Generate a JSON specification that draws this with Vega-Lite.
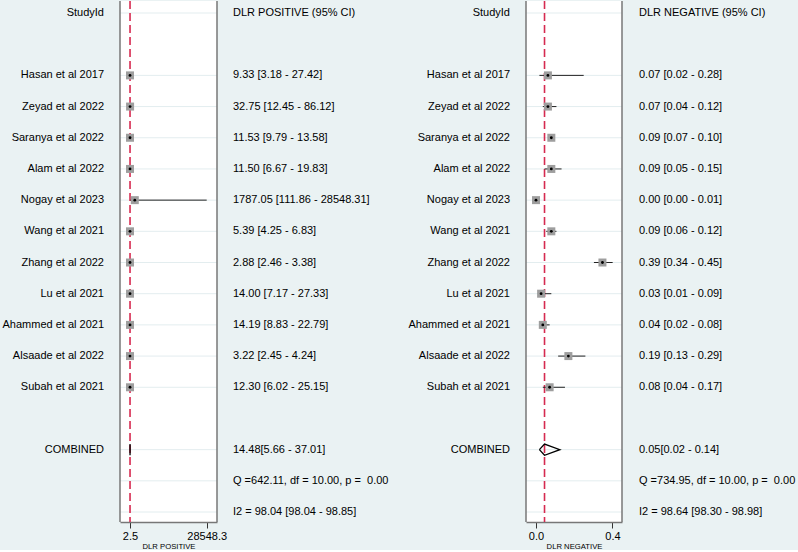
{
  "$schema": "https://vega.github.io/schema/vega-lite/v6.json",
  "background": "#EAF2F3",
  "padding": 0,
  "autosize": {"type": "pad"},
  "spacing": 0,
  "bounds": "flush",
  "config": {
    "view": {"stroke": null},
    "text": {"font": "Liberation Sans", "fontSize": 11, "color": "black", "baseline": "middle"},
    "axisX": {
      "domainColor": "#777777", "domainWidth": 1.5, "tickColor": "#333333", "tickSize": 6, "tickWidth": 1,
      "labelFont": "Liberation Sans", "labelFontSize": 11, "labelColor": "black", "labelPadding": 2,
      "labelFlush": false, "labelOverlap": false,
      "titleFont": "Liberation Sans", "titleFontSize": 7.7, "titleFontWeight": "normal", "titleColor": "black", "titlePadding": 1,
      "grid": false
    }
  },
  "resolve": {"scale": {"x": "independent", "y": "independent"}},
  "datasets": {
    "labels": [
      {"row": 0, "label": "StudyId"},
      {"row": 2, "label": "Hasan et al 2017"},
      {"row": 3, "label": "Zeyad et al 2022"},
      {"row": 4, "label": "Saranya et al 2022"},
      {"row": 5, "label": "Alam et al 2022"},
      {"row": 6, "label": "Nogay et al 2023"},
      {"row": 7, "label": "Wang et al 2021"},
      {"row": 8, "label": "Zhang et al 2022"},
      {"row": 9, "label": "Lu et al 2021"},
      {"row": 10, "label": "Ahammed et al 2021"},
      {"row": 11, "label": "Alsaade et al 2022"},
      {"row": 12, "label": "Subah et al 2021"},
      {"row": 14, "label": "COMBINED"}
    ],
    "posText": [
      {"row": 0, "t": "DLR POSITIVE (95% CI)"},
      {"row": 2, "t": "9.33 [3.18 - 27.42]"},
      {"row": 3, "t": "32.75 [12.45 - 86.12]"},
      {"row": 4, "t": "11.53 [9.79 - 13.58]"},
      {"row": 5, "t": "11.50 [6.67 - 19.83]"},
      {"row": 6, "t": "1787.05 [111.86 - 28548.31]"},
      {"row": 7, "t": "5.39 [4.25 - 6.83]"},
      {"row": 8, "t": "2.88 [2.46 - 3.38]"},
      {"row": 9, "t": "14.00 [7.17 - 27.33]"},
      {"row": 10, "t": "14.19 [8.83 - 22.79]"},
      {"row": 11, "t": "3.22 [2.45 - 4.24]"},
      {"row": 12, "t": "12.30 [6.02 - 25.15]"},
      {"row": 14, "t": "\u00a014.48[5.66 - 37.01]"},
      {"row": 15, "t": "Q =642.11, df = 10.00, p = \u00a00.00"},
      {"row": 16, "t": "I2 = 98.04 [98.04 - 98.85]"}
    ],
    "negText": [
      {"row": 0, "t": "DLR NEGATIVE (95% CI)"},
      {"row": 2, "t": "0.07 [0.02 - 0.28]"},
      {"row": 3, "t": "0.07 [0.04 - 0.12]"},
      {"row": 4, "t": "0.09 [0.07 - 0.10]"},
      {"row": 5, "t": "0.09 [0.05 - 0.15]"},
      {"row": 6, "t": "0.00 [0.00 - 0.01]"},
      {"row": 7, "t": "0.09 [0.06 - 0.12]"},
      {"row": 8, "t": "0.39 [0.34 - 0.45]"},
      {"row": 9, "t": "0.03 [0.01 - 0.09]"},
      {"row": 10, "t": "0.04 [0.02 - 0.08]"},
      {"row": 11, "t": "0.19 [0.13 - 0.29]"},
      {"row": 12, "t": "0.08 [0.04 - 0.17]"},
      {"row": 14, "t": "\u00a00.05[0.02 - 0.14]"},
      {"row": 15, "t": "Q =734.95, df = 10.00, p = \u00a00.00"},
      {"row": 16, "t": "I2 = 98.64 [98.30 - 98.98]"}
    ],
    "studies": [
      {"row": 2, "pos": 9.33, "posLo": 3.18, "posHi": 27.42, "neg": 0.07, "negLo": 0.02, "negHi": 0.28},
      {"row": 3, "pos": 32.75, "posLo": 12.45, "posHi": 86.12, "neg": 0.07, "negLo": 0.04, "negHi": 0.12},
      {"row": 4, "pos": 11.53, "posLo": 9.79, "posHi": 13.58, "neg": 0.09, "negLo": 0.07, "negHi": 0.10},
      {"row": 5, "pos": 11.50, "posLo": 6.67, "posHi": 19.83, "neg": 0.09, "negLo": 0.05, "negHi": 0.15},
      {"row": 6, "pos": 1787.05, "posLo": 111.86, "posHi": 28548.31, "neg": 0.00, "negLo": 0.00, "negHi": 0.01},
      {"row": 7, "pos": 5.39, "posLo": 4.25, "posHi": 6.83, "neg": 0.09, "negLo": 0.06, "negHi": 0.12},
      {"row": 8, "pos": 2.88, "posLo": 2.46, "posHi": 3.38, "neg": 0.39, "negLo": 0.34, "negHi": 0.45},
      {"row": 9, "pos": 14.00, "posLo": 7.17, "posHi": 27.33, "neg": 0.03, "negLo": 0.01, "negHi": 0.09},
      {"row": 10, "pos": 14.19, "posLo": 8.83, "posHi": 22.79, "neg": 0.04, "negLo": 0.02, "negHi": 0.08},
      {"row": 11, "pos": 3.22, "posLo": 2.45, "posHi": 4.24, "neg": 0.19, "negLo": 0.13, "negHi": 0.29},
      {"row": 12, "pos": 12.30, "posLo": 6.02, "posHi": 25.15, "neg": 0.08, "negLo": 0.04, "negHi": 0.17}
    ],
    "pooled": [
      {"row": 14, "pos": 14.48, "posLo": 5.66, "posHi": 37.01, "neg": 0.05, "negLo": 0.02, "negHi": 0.14}
    ],
    "diamond": [
      {"row": 14, "ord": 1, "side": 0, "pos": 5.66, "neg": 0.02},
      {"row": 14, "ord": 2, "side": -1, "pos": 14.48, "neg": 0.05},
      {"row": 14, "ord": 3, "side": 0, "pos": 37.01, "neg": 0.14},
      {"row": 14, "ord": 4, "side": 1, "pos": 14.48, "neg": 0.05},
      {"row": 14, "ord": 5, "side": 0, "pos": 5.66, "neg": 0.02}
    ],
    "grid": [
      {"row": 0}, {"row": 2}, {"row": 3}, {"row": 4}, {"row": 5}, {"row": 6}, {"row": 7},
      {"row": 8}, {"row": 9}, {"row": 10}, {"row": 11}, {"row": 12}, {"row": 14}, {"row": 15}, {"row": 16}
    ]
  },
  "hconcat": [
    {
      "width": 120, "height": 521,
      "data": {"name": "labels"},
      "mark": {"type": "text", "align": "right", "dx": -16},
      "encoding": {
        "x": {"datum": 1, "type": "quantitative", "scale": {"domain": [0, 1]}, "axis": null},
        "y": {"field": "row", "type": "quantitative", "scale": {"domain": [-0.385, 16.32], "reverse": true, "nice": false, "zero": false}, "axis": null},
        "text": {"field": "label"}
      }
    },
    {
      "width": 97, "height": 521,
      "view": {"fill": "white", "stroke": null},
      "layer": [
        {
          "data": {"name": "grid"},
          "mark": {"type": "rule", "color": "#E3EDEF", "strokeWidth": 1},
          "encoding": {
            "y": {"field": "row", "type": "quantitative", "scale": {"domain": [-0.385, 16.32], "reverse": true, "nice": false, "zero": false}, "axis": null}
          }
        },
        {
          "data": {"name": "pooled"},
          "mark": {"type": "rule", "color": "#777777", "strokeWidth": 1.5},
          "encoding": {
            "x": {"datum": -3719, "type": "quantitative", "scale": {"domain": [-3719, 32382], "nice": false, "zero": false}, "axis": {"values": [2.45, 28548.31], "format": ".1f", "title": "DLR POSITIVE"}}
          }
        },
        {
          "data": {"name": "pooled"},
          "mark": {"type": "rule", "color": "#777777", "strokeWidth": 1.5},
          "encoding": {
            "x": {"datum": 32382, "type": "quantitative", "axis": {"values": [2.45, 28548.31], "format": ".1f", "title": "DLR POSITIVE"}}
          }
        },
        {
          "data": {"name": "pooled"},
          "mark": {"type": "rule", "color": "#D62A50", "strokeWidth": 1.6, "strokeDash": [8, 4]},
          "encoding": {
            "x": {"field": "pos", "type": "quantitative", "axis": {"values": [2.45, 28548.31], "format": ".1f", "title": "DLR POSITIVE"}}
          }
        },
        {
          "data": {"name": "studies"},
          "mark": {"type": "rule", "color": "#222222", "strokeWidth": 1},
          "encoding": {
            "x": {"field": "posLo", "type": "quantitative", "axis": {"values": [2.45, 28548.31], "format": ".1f", "title": "DLR POSITIVE"}},
            "x2": {"field": "posHi"},
            "y": {"field": "row", "type": "quantitative"}
          }
        },
        {
          "data": {"name": "studies"},
          "mark": {"type": "point", "shape": "square", "filled": true, "color": "#9E9E9E", "opacity": 1, "size": 64},
          "encoding": {
            "x": {"field": "pos", "type": "quantitative", "axis": {"values": [2.45, 28548.31], "format": ".1f", "title": "DLR POSITIVE"}},
            "y": {"field": "row", "type": "quantitative"}
          }
        },
        {
          "data": {"name": "studies"},
          "mark": {"type": "point", "shape": "circle", "filled": true, "color": "black", "opacity": 1, "size": 8},
          "encoding": {
            "x": {"field": "pos", "type": "quantitative", "axis": {"values": [2.45, 28548.31], "format": ".1f", "title": "DLR POSITIVE"}},
            "y": {"field": "row", "type": "quantitative"}
          }
        },
        {
          "data": {"name": "diamond"},
          "transform": [{"calculate": "datum.row + datum.side * 0.18", "as": "vy"}],
          "mark": {"type": "line", "color": "black", "strokeWidth": 1.3},
          "encoding": {
            "x": {"field": "pos", "type": "quantitative", "axis": {"values": [2.45, 28548.31], "format": ".1f", "title": "DLR POSITIVE"}},
            "y": {"field": "vy", "type": "quantitative"},
            "order": {"field": "ord"}
          }
        }
      ]
    },
    {
      "width": 155, "height": 521,
      "data": {"name": "posText"},
      "mark": {"type": "text", "align": "left", "dx": 16},
      "encoding": {
        "x": {"datum": 0, "type": "quantitative", "scale": {"domain": [0, 1]}, "axis": null},
        "y": {"field": "row", "type": "quantitative", "scale": {"domain": [-0.385, 16.32], "reverse": true, "nice": false, "zero": false}, "axis": null},
        "text": {"field": "t"}
      }
    },
    {
      "width": 154, "height": 521,
      "data": {"name": "labels"},
      "mark": {"type": "text", "align": "right", "dx": -16},
      "encoding": {
        "x": {"datum": 1, "type": "quantitative", "scale": {"domain": [0, 1]}, "axis": null},
        "y": {"field": "row", "type": "quantitative", "scale": {"domain": [-0.385, 16.32], "reverse": true, "nice": false, "zero": false}, "axis": null},
        "text": {"field": "label"}
      }
    },
    {
      "width": 96, "height": 521,
      "view": {"fill": "white", "stroke": null},
      "layer": [
        {
          "data": {"name": "grid"},
          "mark": {"type": "rule", "color": "#E3EDEF", "strokeWidth": 1},
          "encoding": {
            "y": {"field": "row", "type": "quantitative", "scale": {"domain": [-0.385, 16.32], "reverse": true, "nice": false, "zero": false}, "axis": null}
          }
        },
        {
          "data": {"name": "pooled"},
          "mark": {"type": "rule", "color": "#777777", "strokeWidth": 1.5},
          "encoding": {
            "x": {"datum": -0.0587, "type": "quantitative", "scale": {"domain": [-0.0587, 0.5048], "nice": false, "zero": false}, "axis": {"values": [0, 0.449], "format": ".1f", "title": "DLR NEGATIVE"}}
          }
        },
        {
          "data": {"name": "pooled"},
          "mark": {"type": "rule", "color": "#777777", "strokeWidth": 1.5},
          "encoding": {
            "x": {"datum": 0.5048, "type": "quantitative", "axis": {"values": [0, 0.449], "format": ".1f", "title": "DLR NEGATIVE"}}
          }
        },
        {
          "data": {"name": "pooled"},
          "mark": {"type": "rule", "color": "#D62A50", "strokeWidth": 1.6, "strokeDash": [8, 4]},
          "encoding": {
            "x": {"field": "neg", "type": "quantitative", "axis": {"values": [0, 0.449], "format": ".1f", "title": "DLR NEGATIVE"}}
          }
        },
        {
          "data": {"name": "studies"},
          "mark": {"type": "rule", "color": "#222222", "strokeWidth": 1},
          "encoding": {
            "x": {"field": "negLo", "type": "quantitative", "axis": {"values": [0, 0.449], "format": ".1f", "title": "DLR NEGATIVE"}},
            "x2": {"field": "negHi"},
            "y": {"field": "row", "type": "quantitative"}
          }
        },
        {
          "data": {"name": "studies"},
          "mark": {"type": "point", "shape": "square", "filled": true, "color": "#9E9E9E", "opacity": 1, "size": 64},
          "encoding": {
            "x": {"field": "neg", "type": "quantitative", "axis": {"values": [0, 0.449], "format": ".1f", "title": "DLR NEGATIVE"}},
            "y": {"field": "row", "type": "quantitative"}
          }
        },
        {
          "data": {"name": "studies"},
          "mark": {"type": "point", "shape": "circle", "filled": true, "color": "black", "opacity": 1, "size": 8},
          "encoding": {
            "x": {"field": "neg", "type": "quantitative", "axis": {"values": [0, 0.449], "format": ".1f", "title": "DLR NEGATIVE"}},
            "y": {"field": "row", "type": "quantitative"}
          }
        },
        {
          "data": {"name": "diamond"},
          "transform": [{"calculate": "datum.row + datum.side * 0.18", "as": "vy"}],
          "mark": {"type": "line", "color": "black", "strokeWidth": 1.3},
          "encoding": {
            "x": {"field": "neg", "type": "quantitative", "axis": {"values": [0, 0.449], "format": ".1f", "title": "DLR NEGATIVE"}},
            "y": {"field": "vy", "type": "quantitative"},
            "order": {"field": "ord"}
          }
        }
      ]
    },
    {
      "width": 176, "height": 521,
      "data": {"name": "negText"},
      "mark": {"type": "text", "align": "left", "dx": 17},
      "encoding": {
        "x": {"datum": 0, "type": "quantitative", "scale": {"domain": [0, 1]}, "axis": null},
        "y": {"field": "row", "type": "quantitative", "scale": {"domain": [-0.385, 16.32], "reverse": true, "nice": false, "zero": false}, "axis": null},
        "text": {"field": "t"}
      }
    }
  ]
}
